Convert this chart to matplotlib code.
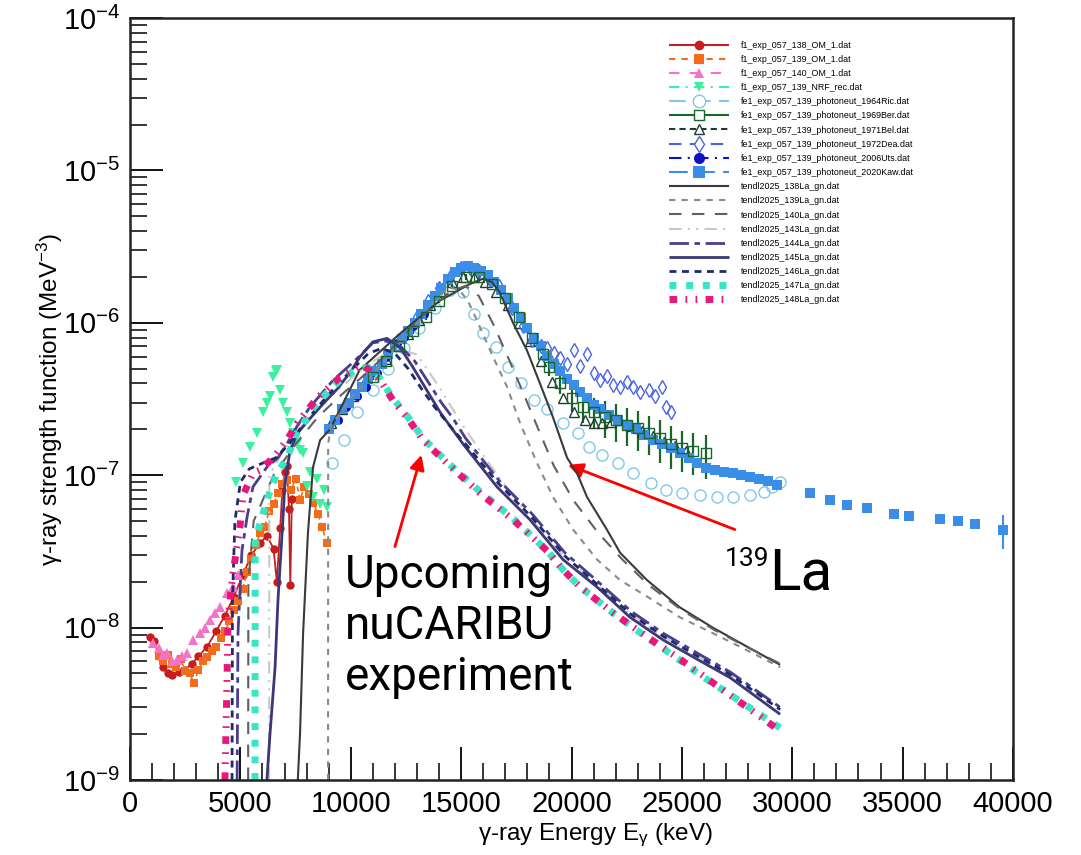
import matplotlib.pyplot as plt
from matplotlib.lines import Line2D
from matplotlib.patches import FancyArrowPatch
from matplotlib.ticker import MultipleLocator, LogLocator, NullFormatter

plt.rcParams['font.family'] = ['Liberation Sans', 'DejaVu Sans']
plt.rcParams['mathtext.fontset'] = 'custom'
plt.rcParams['mathtext.rm'] = 'Liberation Sans'
plt.rcParams['mathtext.it'] = 'Liberation Sans:italic'
plt.rcParams['mathtext.bf'] = 'Liberation Sans:bold'
plt.rcParams['lines.solid_capstyle'] = 'butt'
plt.rcParams['lines.dash_capstyle'] = 'butt'

# ---- experimental data (E in keV, f in MeV^-3) ----
om138_e = [900, 1100, 1300, 1500, 1700, 1900, 2200, 2500, 2800, 3100, 3500, 3900, 4300,
           4700, 5100, 5500, 5900, 6200, 6500, 6650, 6800, 6900, 7000, 7100, 7200, 7260, 7330]
om138_f = [8.7e-9, 8.2e-9, 6.5e-9, 5.5e-9, 5.0e-9, 4.9e-9, 5.1e-9, 5.3e-9, 5.8e-9, 6.5e-9,
           7.5e-9, 9.5e-9, 1.2e-8, 1.6e-8, 2.2e-8, 3.0e-8, 3.6e-8, 4.0e-8, 3.3e-8, 2.0e-8,
           4.5e-8, 8.0e-8, 1.05e-7, 1.15e-7, 6.0e-8, 1.9e-8, 7.0e-8]

om139_e = [1300, 1500, 1700, 1900, 2100, 2300, 2500, 2700, 2900, 3100, 3300, 3500, 3700,
           3900, 4100, 4300, 4500, 4700, 4900, 5100, 5300, 5500, 5700, 5900, 6100, 6300,
           6500, 6700, 6900, 7100, 7300, 7500, 7700, 7900, 8100, 8300, 8500, 8700, 8900]
om139_f = [6.5e-9, 6.0e-9, 6.6e-9, 5.8e-9, 5.5e-9, 6.2e-9, 5.2e-9, 5.0e-9, 4.3e-9, 5.3e-9,
           6.0e-9, 6.4e-9, 7.0e-9, 7.5e-9, 8.5e-9, 9.5e-9, 1.1e-8, 1.3e-8, 1.5e-8, 1.8e-8,
           2.3e-8, 2.8e-8, 3.5e-8, 4.2e-8, 4.6e-8, 5.8e-8, 6.5e-8, 7.6e-8, 8.8e-8, 9.3e-8,
           8.0e-8, 9.5e-8, 6.9e-8, 8.4e-8, 7.5e-8, 6.6e-8, 5.6e-8, 4.6e-8, 3.6e-8]

om140_e = [1040, 1300, 1500, 1680, 1900, 2130, 2350, 2580, 2850, 3170, 3400, 3620, 3850,
           4080, 4390, 4670, 4900]
om140_f = [7.9e-9, 7.3e-9, 6.6e-9, 6.8e-9, 6.0e-9, 6.1e-9, 6.5e-9, 6.8e-9, 8.3e-9, 9.2e-9,
           1.0e-8, 1.12e-8, 1.25e-8, 1.36e-8, 1.69e-8, 1.85e-8, 2.2e-8]

nrf_e = [4800, 5100, 5440, 5750, 6030, 6200, 6340, 6480, 6600, 6660, 6800, 6950, 7110,
         7250, 7380, 7550, 7700, 7850, 8020, 8150, 8290, 8450, 8610, 8800, 8920]
nrf_f = [9.0e-8, 1.2e-7, 1.53e-7, 1.9e-7, 2.6e-7, 3.0e-7, 3.3e-7, 4.4e-7, 4.8e-7, 4.9e-7,
         3.6e-7, 3.0e-7, 2.6e-7, 2.2e-7, 1.9e-7, 1.6e-7, 1.46e-7, 1.4e-7, 8.5e-8, 1.05e-7,
         7.2e-8, 9.5e-8, 6.5e-8, 8.0e-8, 6.2e-8]

ric_e = [9150, 9700, 10300, 11000, 11700, 12400, 13100, 13800, 14500, 15100, 15600, 16000,
         16600, 17100, 17700, 18300, 18900, 19600, 20300, 20800, 21400, 22100, 22800, 23600,
         24300, 25000, 25800, 26600, 27300, 28100, 28700, 29100, 29450]
ric_f = [1.2e-7, 1.7e-7, 2.6e-7, 3.6e-7, 5.0e-7, 6.8e-7, 9.2e-7, 1.25e-6, 1.65e-6, 1.6e-6,
         1.15e-6, 8.6e-7, 6.9e-7, 5.1e-7, 4.0e-7, 3.1e-7, 2.7e-7, 2.2e-7, 1.9e-7, 1.53e-7,
         1.35e-7, 1.2e-7, 1.03e-7, 8.9e-8, 8.0e-8, 7.6e-8, 7.4e-8, 7.2e-8, 7.2e-8, 7.4e-8,
         7.8e-8, 8.4e-8, 9.0e-8]

ber_e = [11000, 11600, 12200, 12800, 13400, 14000, 14600, 15200, 15800, 16400, 17000, 17600,
         18200, 18700, 19000, 19500, 20000, 20500, 21000, 21500, 22000, 22500, 23000, 23500,
         24000, 24500, 25000, 25500, 26100]
ber_f = [4.4e-7, 5.6e-7, 7.0e-7, 8.8e-7, 1.1e-6, 1.4e-6, 1.75e-6, 2.0e-6, 2.0e-6, 1.8e-6,
         1.45e-6, 1.1e-6, 8.0e-7, 6.2e-7, 5.1e-7, 4.0e-7, 3.2e-7, 2.8e-7, 2.6e-7, 2.4e-7,
         2.3e-7, 2.15e-7, 2.05e-7, 1.9e-7, 1.75e-7, 1.6e-7, 1.5e-7, 1.45e-7, 1.4e-7]
ber_err = [2e-8, 3e-8, 3e-8, 4e-8, 5e-8, 6e-8, 8e-8, 1e-7, 1e-7, 1e-7, 8e-8, 7e-8, 6e-8,
           6e-8, 6e-8, 6e-8, 6e-8, 6e-8, 6e-8, 6.5e-8, 6.5e-8, 6e-8, 6e-8, 5.5e-8, 5.5e-8,
           5e-8, 4.5e-8, 4.5e-8, 4.5e-8]

bel_e = [9100, 9600, 10100, 10600, 11100, 11600, 12100, 12600, 13100, 13600, 14100, 14600,
         15100, 15600, 16100, 16600, 17100, 17600, 18100, 18600, 19100, 19600, 20100, 20600,
         21000, 21400, 21800, 22200, 22700, 23200, 23700, 24200, 24700, 25200]
bel_f = [2.2e-7, 2.7e-7, 3.3e-7, 4.0e-7, 4.8e-7, 5.8e-7, 7.0e-7, 8.5e-7, 1.05e-6, 1.3e-6,
         1.6e-6, 1.85e-6, 2.0e-6, 2.0e-6, 1.85e-6, 1.6e-6, 1.3e-6, 1.0e-6, 7.6e-7, 5.6e-7,
         4.1e-7, 3.2e-7, 2.6e-7, 2.3e-7, 2.2e-7, 2.2e-7, 2.25e-7, 2.3e-7, 2.1e-7, 1.95e-7,
         1.8e-7, 1.65e-7, 1.55e-7, 1.45e-7]

dea_e = [13000, 13500, 14000, 14500, 15000, 15400, 15800, 16200, 16700, 17300, 17800, 18200,
         18600, 18900, 19200, 19500, 19800, 20100, 20400, 20700, 21000, 21300, 21600, 21900,
         22200, 22500, 22800, 23100, 23500, 23800, 24100, 24300, 24500]
dea_f = [1.1e-6, 1.4e-6, 1.7e-6, 2.0e-6, 2.3e-6, 2.3e-6, 2.2e-6, 2.0e-6, 1.75e-6, 1.25e-6,
         9.5e-7, 7.7e-7, 7.0e-7, 6.8e-7, 6.3e-7, 5.9e-7, 5.4e-7, 6.6e-7, 5.2e-7, 6.2e-7,
         4.7e-7, 4.2e-7, 4.5e-7, 3.9e-7, 3.8e-7, 4.1e-7, 3.8e-7, 3.5e-7, 3.6e-7, 3.3e-7,
         3.8e-7, 2.8e-7, 2.6e-7]

uts_e = [9400, 9800, 10300, 10700, 11200, 11600, 12100, 12400, 12800, 13300]
uts_f = [2.3e-7, 2.8e-7, 3.3e-7, 3.8e-7, 4.7e-7, 6.0e-7, 7.4e-7, 8.1e-7, 9.5e-7, 1.15e-6]

kaw_e = [9000, 9300, 9600, 9900, 10200, 10500, 10800, 11100, 11400, 11700, 12000, 12300,
         12600, 12900, 13200, 13500, 13800, 14100, 14400, 14700, 15000, 15300, 15600, 15900,
         16200, 16500, 16800, 17100, 17400, 17700, 18000, 18300, 18600, 18900, 19200, 19500,
         19800, 20100, 20400, 20700, 21000, 21300, 21700, 22100, 22500, 22900, 23300, 23700,
         24100, 24500, 24900, 25300, 25700, 26100, 26500, 26900, 27300, 27700, 28100, 28500,
         28900, 29300, 30800, 31700, 32500, 33400, 34600, 35300, 36700, 37500, 38300, 39550]
kaw_f = [2.0e-7, 2.3e-7, 2.7e-7, 3.0e-7, 3.4e-7, 3.8e-7, 4.3e-7, 4.8e-7, 5.4e-7, 6.2e-7,
         7.0e-7, 7.8e-7, 8.8e-7, 1.0e-6, 1.15e-6, 1.3e-6, 1.5e-6, 1.7e-6, 1.95e-6, 2.15e-6,
         2.3e-6, 2.35e-6, 2.3e-6, 2.2e-6, 2.05e-6, 1.85e-6, 1.65e-6, 1.45e-6, 1.25e-6, 1.08e-6,
         9.3e-7, 8.0e-7, 7.0e-7, 6.1e-7, 5.4e-7, 4.8e-7, 4.3e-7, 3.9e-7, 3.5e-7, 3.2e-7,
         2.9e-7, 2.7e-7, 2.5e-7, 2.3e-7, 2.15e-7, 2.0e-7, 1.85e-7, 1.7e-7, 1.6e-7, 1.5e-7,
         1.4e-7, 1.3e-7, 1.2e-7, 1.12e-7, 1.08e-7, 1.05e-7, 1.03e-7, 1.0e-7, 9.8e-8, 9.5e-8,
         9.2e-8, 8.6e-8, 7.6e-8, 6.9e-8, 6.4e-8, 6.1e-8, 5.6e-8, 5.4e-8, 5.2e-8, 5.0e-8,
         4.8e-8, 4.4e-8]
kaw_last_err = 1.1e-8

# ---- TENDL-2025 (g,n) strength functions ----
t138_e = [7600, 7700, 7840, 8060, 8290, 8610, 9060, 10400, 12230, 14040, 15400, 16000,
          16400, 16760, 17350, 17980, 18570, 19160, 19800, 20250, 20700, 21600, 22200,
          23420, 24900, 26400, 27950, 29450]
t138_f = [1e-9, 2.0e-9, 9.2e-9, 4.2e-8, 1.13e-7, 1.7e-7, 2.0e-7, 4.9e-7, 8.5e-7, 1.4e-6,
          1.8e-6, 1.95e-6, 1.85e-6, 1.57e-6, 1.0e-6, 6.6e-7, 4.0e-7, 2.4e-7, 1.3e-7, 1.03e-7,
          7.2e-8, 4.4e-8, 3.1e-8, 2.05e-8, 1.36e-8, 1.0e-8, 7.5e-9, 5.7e-9]

t139_e = [8970, 8975, 9100, 10000, 11000, 12000, 13000, 14000, 14500, 14900, 15300, 15700,
          16440, 17080, 17670, 18440, 19160, 20070, 21150, 22200, 23420, 24900, 26400,
          27950, 29450]
t139_f = [1e-9, 1.6e-7, 2.1e-7, 3.2e-7, 4.6e-7, 6.8e-7, 1.0e-6, 1.5e-6, 1.7e-6, 1.65e-6,
          1.4e-6, 1.05e-6, 6.0e-7, 3.8e-7, 2.2e-7, 1.2e-7, 7.2e-8, 4.4e-8, 2.8e-8, 2.05e-8,
          1.6e-8, 1.17e-8, 9.2e-9, 7.1e-9, 5.5e-9]

t140_e = [5350, 5360, 5600, 6500, 7500, 8500, 9500, 10500, 11500, 12500, 13500, 14500,
          15200, 15800, 16500, 17200, 17800, 18500, 19200, 20100, 21200, 22300, 23500,
          25000, 26500, 28000, 29450]
t140_f = [1e-9, 2e-8, 5e-8, 1.0e-7, 1.6e-7, 2.4e-7, 3.3e-7, 4.4e-7, 6.0e-7, 8.5e-7, 1.2e-6,
          1.6e-6, 1.75e-6, 1.5e-6, 9.5e-7, 5.6e-7, 3.5e-7, 2.0e-7, 1.15e-7, 6.8e-8, 4.2e-8,
          2.8e-8, 1.9e-8, 1.3e-8, 9.6e-9, 7.4e-9, 5.8e-9]

t143_e = [6300, 6310, 7000, 8000, 9000, 10000, 11000, 12000, 13000, 14000, 15000, 16000,
          17000, 18000, 19600, 21000, 22600, 24100, 25700, 27200, 29450]
t143_f = [1e-9, 1.0e-7, 1.5e-7, 2.3e-7, 3.2e-7, 4.3e-7, 5.6e-7, 6.8e-7, 6.2e-7, 3.8e-7,
          2.2e-7, 1.35e-7, 8.5e-8, 5.5e-8, 3.0e-8, 2.0e-8, 1.25e-8, 8.8e-9, 6.5e-9, 4.9e-9,
          3.0e-9]

t144_e = [4850, 4890, 5070, 5300, 5570, 6200, 6700, 7100, 7570, 8150, 9200, 10100, 11000,
          11600, 12300, 12900, 13500, 14100, 14600, 15200, 16700, 18200, 19700, 21200,
          22700, 24200, 25700, 27200, 29450]
t144_f = [1e-9, 9.2e-9, 3.2e-8, 5.3e-8, 8.4e-8, 1.13e-7, 1.3e-7, 1.6e-7, 2.1e-7, 2.8e-7,
          4.2e-7, 5.5e-7, 7.4e-7, 7.6e-7, 6.9e-7, 5.6e-7, 4.1e-7, 3.0e-7, 2.4e-7, 1.75e-7,
          9.3e-8, 5.6e-8, 3.1e-8, 2.0e-8, 1.28e-8, 9.1e-9, 6.8e-9, 5.1e-9, 3.0e-9]

t145_e = [6200, 6340, 6570, 6700, 6890, 7020, 7250, 7600, 8200, 8800, 9400, 10000, 10420,
          11000, 11640, 12230, 12820, 13450, 14040, 14500, 15090, 16620, 18120, 19610,
          21150, 22650, 24150, 25690, 27180, 29450]
t145_f = [1e-9, 2e-9, 5.5e-9, 1.5e-8, 4.2e-8, 8.9e-8, 1.46e-7, 1.9e-7, 2.4e-7, 3.0e-7,
          3.7e-7, 4.8e-7, 6.0e-7, 7.5e-7, 7.9e-7, 6.9e-7, 5.1e-7, 3.6e-7, 2.6e-7, 2.1e-7,
          1.6e-7, 8.4e-8, 5.1e-8, 2.8e-8, 1.85e-8, 1.17e-8, 8.3e-9, 6.2e-9, 4.7e-9, 2.7e-9]

t146_e = [4620, 4640, 4750, 5000, 5400, 6000, 6600, 7200, 7800, 8500, 9300, 10100, 10800,
          11400, 12000, 12600, 13200, 13800, 14500, 15200, 16700, 18200, 19700, 21200,
          22700, 24200, 25700, 27200, 29450]
t146_f = [1e-9, 1.5e-8, 5e-8, 9e-8, 1.1e-7, 1.2e-7, 1.3e-7, 1.6e-7, 2.1e-7, 2.8e-7, 3.8e-7,
          5.0e-7, 6.3e-7, 6.8e-7, 6.3e-7, 5.0e-7, 3.7e-7, 2.8e-7, 2.1e-7, 1.6e-7, 8.8e-8,
          5.3e-8, 2.95e-8, 1.9e-8, 1.22e-8, 8.7e-9, 6.5e-9, 4.9e-9, 2.9e-9]

t147_e = [5660, 5670, 5980, 6200, 6660, 7110, 7570, 8470, 9510, 10300, 10800, 11330,
          11910, 12550, 13270, 14360, 15860, 17350, 18890, 19610, 20390, 21880, 23420,
          24920, 25820, 29450]
t147_f = [1e-9, 3.8e-8, 5.3e-8, 6.9e-8, 1.03e-7, 1.3e-7, 1.9e-7, 3.0e-7, 4.2e-7, 5.0e-7,
          5.1e-7, 4.3e-7, 3.2e-7, 2.45e-7, 1.75e-7, 1.22e-7, 7.8e-8, 5.2e-8, 3.2e-8, 2.4e-8,
          1.85e-8, 1.25e-8, 8.6e-9, 6.1e-9, 4.9e-9, 2.2e-9]

t148_e = [4300, 4390, 4440, 4670, 4980, 5120, 5570, 5890, 6480, 6660, 7110, 7570, 8470,
          9510, 10550, 11330, 11910, 12550, 13270, 14360, 15860, 17350, 18890, 19610,
          20390, 21880, 23420, 24920, 25820, 29450]
t148_f = [1.0e-9, 4.3e-9, 1.17e-8, 2.3e-8, 4.6e-8, 7.4e-8, 1.03e-7, 1.08e-7, 1.3e-7,
          1.4e-7, 1.7e-7, 2.2e-7, 3.2e-7, 4.4e-7, 5.3e-7, 4.2e-7, 3.1e-7, 2.4e-7, 1.7e-7,
          1.2e-7, 7.6e-8, 5.1e-8, 3.2e-8, 2.4e-8, 1.85e-8, 1.25e-8, 8.7e-9, 6.2e-9, 5.0e-9,
          2.1e-9]

labels = ['f1_exp_057_138_OM_1.dat', 'f1_exp_057_139_OM_1.dat', 'f1_exp_057_140_OM_1.dat',
          'f1_exp_057_139_NRF_rec.dat', 'fe1_exp_057_139_photoneut_1964Ric.dat',
          'fe1_exp_057_139_photoneut_1969Ber.dat', 'fe1_exp_057_139_photoneut_1971Bel.dat',
          'fe1_exp_057_139_photoneut_1972Dea.dat', 'fe1_exp_057_139_photoneut_2006Uts.dat',
          'fe1_exp_057_139_photoneut_2020Kaw.dat',
          'tendl2025_138La_gn.dat', 'tendl2025_139La_gn.dat', 'tendl2025_140La_gn.dat',
          'tendl2025_143La_gn.dat', 'tendl2025_144La_gn.dat', 'tendl2025_145La_gn.dat',
          'tendl2025_146La_gn.dat', 'tendl2025_147La_gn.dat', 'tendl2025_148La_gn.dat']

c_om138, c_om139, c_om140, c_nrf = '#c41e1e', '#f26d1b', '#f472c8', '#3cf0a0'
c_ric, c_ber, c_bel, c_dea, c_uts, c_kaw = '#80c8ea', '#17662a', '#1f3d2f', '#4a63e0', '#1010c0', '#3b8ee8'

fig = plt.figure(figsize=(10.81, 8.55), dpi=100)
ax = fig.add_axes([0.1203, 0.0877, 0.8168, 0.8912])
ax.set_yscale('log')

# measured points
ax.plot(om138_e, om138_f, color=c_om138, lw=1.3, marker='o', ms=6, mew=0)
ax.plot(om139_e, om139_f, color=c_om139, lw=1.2, ls=(0, (3, 2)), marker='s', ms=6, mew=0)
ax.plot(om140_e, om140_f, ls='none', color=c_om140, marker='^', ms=6.5, mew=0)
ax.plot(nrf_e, nrf_f, ls='none', color=c_nrf, marker='v', ms=6.5, mew=0)
ax.plot(ric_e, ric_f, ls='none', marker='o', ms=8, mfc='none', mec=c_ric, mew=1)
ax.errorbar(ber_e, ber_f, yerr=ber_err, fmt='s', ms=6.5, mfc='none', mec=c_ber, mew=1,
            ecolor=c_ber, elinewidth=1.6, capsize=0)
ax.plot(bel_e, bel_f, ls='none', marker='^', ms=7, mfc='none', mec=c_bel, mew=1)
ax.plot(dea_e, dea_f, ls='none', marker='d', ms=7, mfc='none', mec=c_dea, mew=1)
ax.plot(uts_e, uts_f, ls='none', color=c_uts, marker='o', ms=6.5, mew=0)
ax.plot(kaw_e, kaw_f, ls='none', color=c_kaw, marker='s', ms=6.5, mew=0)
ax.errorbar(kaw_e[-1:], kaw_f[-1:], yerr=[kaw_last_err], fmt='none', ecolor=c_kaw,
            elinewidth=1.5, capsize=0)

# model curves: (E, f, colour, width, dash pattern)
tendl = [
    (t138_e, t138_f, '#3a3a3a', 1.5, None),
    (t139_e, t139_f, '#8a8a8a', 1.5, (3, 3)),
    (t140_e, t140_f, '#606060', 1.5, (6, 5)),
    (t143_e, t143_f, '#c8c8c8', 1.5, (6, 3, 1, 3, 1, 3)),
    (t144_e, t144_f, '#4b3f8c', 2.0, (7, 2, 2, 2)),
    (t145_e, t145_f, '#3a3878', 2.0, None),
    (t146_e, t146_f, '#1f2a6b', 2.0, (2.5, 2)),
    (t147_e, t147_f, '#38e6c4', 5.0, (1, 1.4)),
    (t148_e, t148_f, '#e6197a', 5.0, (1.1, 1.2, 0.25, 1.2, 0.25, 1.2)),
]
tendl_handles = []
for e, f, col, lw, dash in tendl:
    kw = dict(color=col, lw=lw)
    if dash is not None:
        kw['dashes'] = dash
    ax.plot(e, f, **kw)
    tendl_handles.append(Line2D([], [], **kw))

data_handles = [
    Line2D([], [], color=c_om138, lw=1.5, marker='o', ms=7, mew=0),
    Line2D([], [], color=c_om139, lw=1.5, dashes=(3, 3), marker='s', ms=7, mew=0),
    Line2D([], [], color=c_om140, lw=1.5, dashes=(5, 5), marker='^', ms=7, mew=0),
    Line2D([], [], color=c_nrf, lw=1.5, dashes=(5, 3, 1, 3), marker='v', ms=7, mew=0),
    Line2D([], [], color=c_ric, lw=1.5, dashes=(8, 4), marker='o', ms=9, mfc='white', mew=1),
    Line2D([], [], color=c_ber, lw=1.5, marker='s', ms=7, mfc='white', mew=1),
    Line2D([], [], color=c_bel, lw=1.5, dashes=(3, 2), marker='^', ms=7, mfc='white', mew=1),
    Line2D([], [], color=c_dea, lw=1.5, dashes=(6, 4), marker='d', ms=8, mfc='white', mew=1),
    Line2D([], [], color=c_uts, lw=1.5, dashes=(6, 3, 1, 3), marker='o', ms=8, mew=0),
    Line2D([], [], color=c_kaw, lw=1.5, dashes=(9, 4), marker='s', ms=8, mew=0),
]
ax.legend(data_handles + tendl_handles, labels, loc='upper left',
          bbox_to_anchor=(0.606, 0.975), frameon=False, fontsize=6.4,
          handlelength=6.8, handletextpad=1.3, labelspacing=0.58, borderaxespad=0)

ax.set_xlim(0, 40000)
ax.set_ylim(1e-9, 1e-4)
ax.xaxis.set_major_locator(MultipleLocator(5000))
ax.xaxis.set_minor_locator(MultipleLocator(1000))
ax.yaxis.set_major_locator(LogLocator(base=10, numticks=10))
ax.yaxis.set_minor_locator(LogLocator(base=10, subs=[2, 3, 4, 5, 6, 7, 8, 9], numticks=20))
ax.yaxis.set_minor_formatter(NullFormatter())
ax.tick_params(which='major', direction='in', length=24, width=1.3, labelsize=21, pad=7,
               top=False, right=False)
ax.tick_params(which='minor', direction='in', length=12, width=1.1, top=False, right=False)
for s in ax.spines.values():
    s.set_linewidth(1.8)
    s.set_color('#222222')

ax.set_xlabel('γ-ray Energy E$_{\\mathregular{γ}}$ (keV)', fontsize=17.5)
ax.set_ylabel('γ-ray strength function (MeV$^{-3}$)', fontsize=17.5)
ax.xaxis.set_label_coords(0.527, -0.054)
ax.yaxis.set_label_coords(-0.074, 0.5)

# annotations
for tail, head in [((12000, 3.4e-8), (13200, 1.36e-7)), ((27400, 4.4e-8), (19840, 1.17e-7))]:
    ax.add_patch(FancyArrowPatch(tail, head, arrowstyle='-|>', color='red', lw=2,
                                 mutation_scale=22, shrinkA=0, shrinkB=0))
ax.text(9740, 3.1e-8, 'Upcoming\nnuCARIBU\nexperiment', fontsize=33, family='Roboto',
        va='top', ha='left', linespacing=1.2)
ax.text(26950, 2.55e-8, '139', fontsize=19, family='Roboto', va='baseline', ha='left')
ax.text(28950, 1.77e-8, 'La', fontsize=42, family='Roboto', va='baseline', ha='left')

fig.savefig('out.png', dpi=100)
